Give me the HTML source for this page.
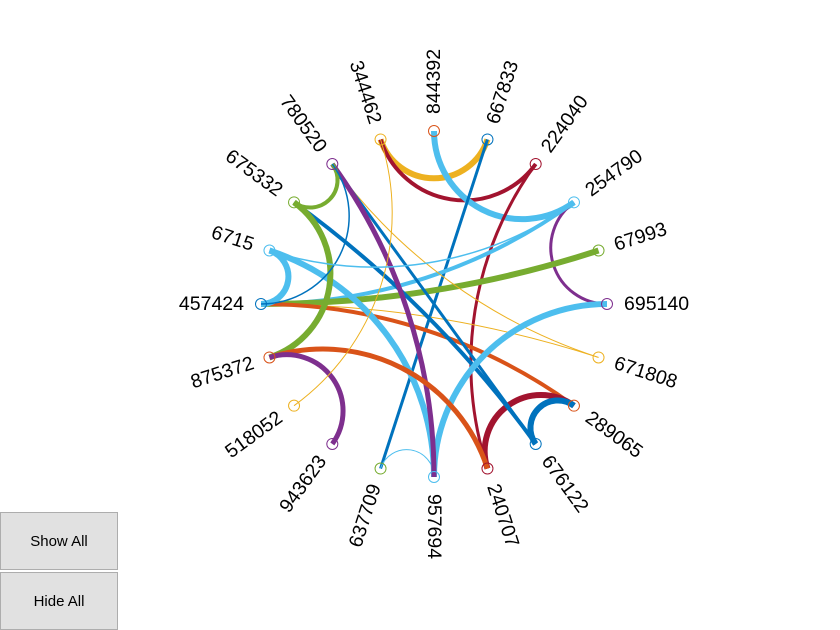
<!DOCTYPE html>
<html><head><meta charset="utf-8"><style>
body{margin:0;width:840px;height:630px;background:#fff;overflow:hidden;font-family:"Liberation Sans",sans-serif;position:relative}
.btn{position:absolute;left:0;width:116px;height:56px;background:#e1e1e1;border:1px solid #adadad;font-size:15px;display:flex;align-items:center;justify-content:center;color:#000}
</style></head><body>
<svg id="chart" width="840" height="630" style="position:absolute;left:0;top:0"></svg>
<div class="btn" style="top:512px">Show All</div>
<div class="btn" style="top:572px">Hide All</div>
<script>
const nodeNames=["457424","875372","518052","943623","637709","957694","240707","676122","289065","671808","695140","67993","254790","224040","667833","844392","344462","780520","675332","6715"];
const edgeSource=["344462","224040","254790","667833","224040","695140","254790","67993","671808","671808","289065","240707","676122","676122","676122","957694","957694","957694","780520","675332","675332","875372","943623","344462","6715","457424","6715"];
const edgeTarget=["667833","344462","844392","637709","240707","254790","457424","457424","457424","780520","457424","289065","289065","675332","780520","695140","6715","637709","957694","780520","875372","240707","875372","518052","457424","780520","254790"];
const edgeWeight=[6,4,6,3,3,3,4,6,1,1,4,6,6,4,3,6,6,1,5,4,6,5,5,1,6,1.5,1.5];
const colors=["#0072BD","#D95319","#EDB120","#7E2F8E","#77AC30","#4DBEEE","#A2142F"];
const cx=434,cy=304,R=173;
const svg=document.getElementById('chart');
const NS="http://www.w3.org/2000/svg";
function ang(i){return (180+18*i)*Math.PI/180;}
function pos(i){const a=ang(i);return [cx+R*Math.cos(a),cy-R*Math.sin(a)];}
function idx(n){return nodeNames.indexOf(n);}
edgeSource.forEach((s,k)=>{
  const i=idx(s),j=idx(edgeTarget[k]);
  const [x1,y1]=pos(i),[x2,y2]=pos(j);
  let d=Math.abs(ang(i)-ang(j));if(d>Math.PI)d=2*Math.PI-d;
  let p;
  if(Math.abs(d-Math.PI)<1e-3){p=`M${x1},${y1}L${x2},${y2}`;}
  else{const r=R*Math.tan(d/2);const cr=(x2-x1)*(cy-y1)-(y2-y1)*(cx-x1);const sw=cr<0?1:0;
    p=`M${x1},${y1}A${r},${r} 0 0 ${sw} ${x2},${y2}`;}
  const e=document.createElementNS(NS,'path');
  e.setAttribute('d',p);e.setAttribute('fill','none');
  e.setAttribute('stroke',colors[i%7]);e.setAttribute('stroke-width',edgeWeight[k]);
  
  
  svg.appendChild(e);
});
nodeNames.forEach((n,i)=>{
  const [x,y]=pos(i);const a=ang(i);
  const c=document.createElementNS(NS,'circle');
  c.setAttribute('cx',x);c.setAttribute('cy',y);c.setAttribute('r',5.5);
  c.setAttribute('fill','none');c.setAttribute('stroke',colors[i%7]);c.setAttribute('stroke-width',1);
  
  
  svg.appendChild(c);
  const lx=cx+(R+17)*Math.cos(a),ly=cy-(R+17)*Math.sin(a);
  const deg=a*180/Math.PI;
  const t=document.createElementNS(NS,'text');
  const right=Math.cos(a)>-1e-6;
  const rot=right?-deg:180-deg;
  t.setAttribute('x',lx);t.setAttribute('y',ly);
  t.setAttribute('text-anchor',right?'start':'end');
  t.setAttribute('dominant-baseline','central');
  t.setAttribute('font-size','19.5');
  t.setAttribute('transform',`rotate(${rot} ${lx} ${ly})`);
  t.textContent=n;
  
  
  svg.appendChild(t);
});
</script>
</body></html>
